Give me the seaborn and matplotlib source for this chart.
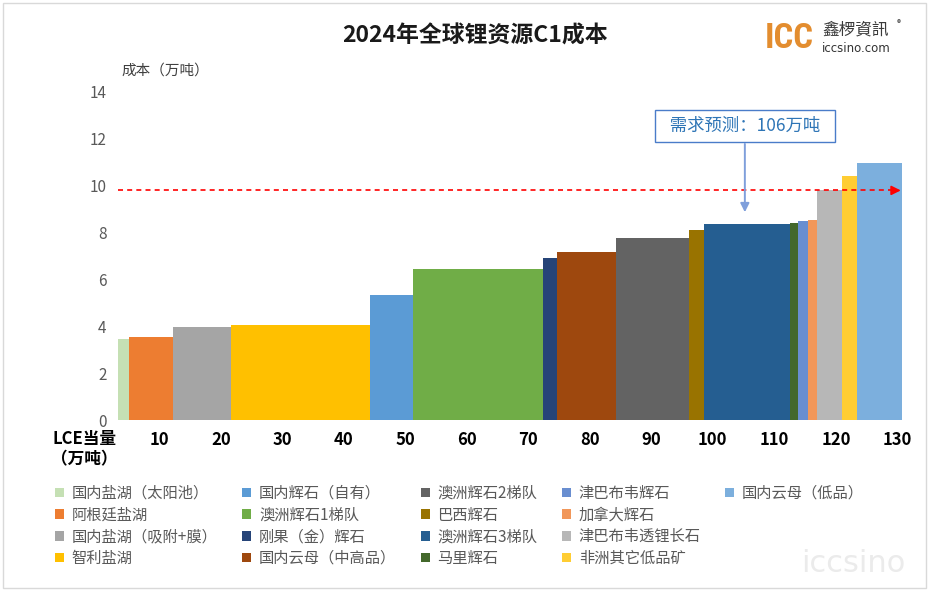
import numpy as np
import pandas as pd
import matplotlib
matplotlib.use("Agg")
import matplotlib.pyplot as plt
from matplotlib import font_manager
from matplotlib.patches import Patch, Rectangle
import seaborn as sns

# 各资源类别（按成本从低到高排列）
names = ["国内盐湖（太阳池）", "阿根廷盐湖", "国内盐湖（吸附+膜）", "智利盐湖",
         "国内辉石（自有）", "澳洲辉石1梯队", "刚果（金）辉石", "国内云母（中高品）",
         "澳洲辉石2梯队", "巴西辉石", "澳洲辉石3梯队", "马里辉石",
         "津巴布韦辉石", "加拿大辉石", "津巴布韦透锂长石", "非洲其它低品矿",
         "国内云母（低品）"]
# LCE当量（万吨）= 柱宽
widths = [1.8, 7.2, 9.3, 22.6, 7.0, 21.1, 2.4, 9.5, 12.0, 2.3, 14.0, 1.3,
          1.7, 1.5, 4.0, 2.5, 7.2]
# C1成本 = 柱高
costs = [3.45, 3.55, 3.95, 4.05, 5.35, 6.45, 6.9, 7.15, 7.75, 8.1, 8.35, 8.4,
         8.5, 8.55, 9.8, 10.4, 10.95]
colors = ["#c5e0b4", "#ed7d31", "#a5a5a5", "#ffc000", "#5b9bd5", "#70ad47",
          "#264478", "#9e480e", "#636363", "#997300", "#255e91", "#43682b",
          "#698ed0", "#f1975a", "#b7b7b7", "#ffcd33", "#7cafdd"]
x_start = 3.3
demand = 106
demand_cost = 9.8
x_ticks = [10, 20, 30, 40, 50, 60, 70, 80, 90, 100, 110, 120, 130]
y_ticks = [0, 2, 4, 6, 8, 10, 12, 14]

sns.set_theme(style="white")
plt.rcParams["font.family"] = ["Noto Sans CJK SC", "DejaVu Sans"]

# 标志用窄体字（找不到就退回 DejaVu 并缩小字号）
installed = {f.name for f in font_manager.fontManager.ttflist}
logo_font, logo_size = "DejaVu Sans", 20
for fam in ["Liberation Sans Narrow", "DejaVu Sans Condensed", "Roboto Condensed"]:
    if fam in installed:
        logo_font, logo_size = fam, 25
        break

edges = np.concatenate([[x_start], x_start + np.cumsum(widths)])
df = pd.DataFrame({"name": names, "mid": edges[:-1] + np.array(widths) / 2, "cost": costs})

fig = plt.figure(figsize=(9.31, 5.92), dpi=100)
ax = fig.add_axes([0.1249, 0.2905, 0.8489, 0.5541])

# 变宽柱：每类一个 bin，权重 = 成本
sns.histplot(data=df, x="mid", weights="cost", hue="name", hue_order=names,
             palette=dict(zip(names, colors)), bins=[float(e) for e in edges],
             multiple="layer", alpha=1, linewidth=0, legend=False, ax=ax)

ax.set_xlim(3.0, 131.5)
ax.set_ylim(0, 14)
ax.set_xticks(x_ticks)
ax.set_xticklabels([str(t) for t in x_ticks], fontsize=12, fontweight="bold", color="black")
ax.set_yticks(y_ticks)
ax.set_yticklabels([str(t) for t in y_ticks], fontsize=11, color="#595959")
ax.tick_params(axis="x", length=0, pad=8)
ax.tick_params(axis="y", length=0, pad=7)
ax.set_xlabel("")
ax.set_ylabel("")
for s in ax.spines.values():
    s.set_visible(False)

# 需求线
ax.plot([x_start, 130], [demand_cost, demand_cost], color="red", lw=1.2,
        linestyle=(0, (3, 2.5)))
ax.annotate("", xy=(131, demand_cost), xytext=(129, demand_cost),
            arrowprops=dict(arrowstyle="-|>", color="red", lw=1.2, mutation_scale=14))

# 需求预测标注
ax.annotate("", xy=(demand - 0.8, 8.75), xytext=(demand - 0.8, 11.9),
            arrowprops=dict(arrowstyle="-|>", color="#7f9fdb", lw=1.4, mutation_scale=13))
ax.text(demand - 0.8, 12.55, "  需求预测：106万吨  ", ha="center", va="center",
        fontsize=12.5, color="#2e75b6",
        bbox=dict(boxstyle="square,pad=0.42", fc="white", ec="#4a7cc9", lw=1))

# 标题与轴标题
fig.text(475 / 931, 1 - 36 / 592, "2024年全球锂资源C1成本", ha="center", va="center",
         fontsize=16.5, fontweight="bold", color="#1a1a1a")
fig.text(165 / 931, 1 - 71 / 592, "成本（万吨）", ha="center", va="center",
         fontsize=10.5, color="#404040")
fig.text(84 / 931, 1 - 449 / 592, "LCE当量\n（万吨）", ha="center", va="center",
         fontsize=12, fontweight="bold", color="black", linespacing=1.15)

# 图例
handles = [Patch(facecolor=c, edgecolor="none") for c in colors]
labels = list(names)
for _ in range(3):
    handles.append(Patch(facecolor="none", edgecolor="none"))
    labels.append("")
fig.legend(handles, labels, ncol=5, loc="upper left", bbox_to_anchor=(55 / 931, 1 - 485 / 592),
           frameon=False, fontsize=11, handlelength=0.6, handleheight=0.6,
           handletextpad=0.5, columnspacing=1.6, labelspacing=0.3,
           labelcolor="#595959", borderpad=0, borderaxespad=0)

# 标志与水印
fig.text(765 / 931, 1 - 38 / 592, "ICC", ha="left", va="center", fontsize=logo_size,
         fontweight="bold", color="#e38d2f", family=[logo_font])
fig.text(822 / 931, 1 - 30 / 592, "鑫椤資訊", ha="left", va="center", fontsize=12,
         color="#3a3a3a", family=["Noto Sans CJK TC", "DejaVu Sans"])
fig.text(897 / 931, 1 - 24 / 592, "®", ha="left", va="center", fontsize=6, color="#3a3a3a")
fig.text(822 / 931, 1 - 48 / 592, "iccsino.com", ha="left", va="center", fontsize=8.5,
         color="#333333", family=["DejaVu Sans"])
fig.text(853 / 931, 1 - 563 / 592, "iccsino", ha="center", va="center", fontsize=22,
         color="#ebebeb", family=["DejaVu Sans"])

fig.patches.append(Rectangle((3 / 931, 4 / 592), 923 / 931, 585 / 592, transform=fig.transFigure,
                             fill=False, ec="#d9d9d9", lw=1))

fig.savefig("out.png", dpi=100)
